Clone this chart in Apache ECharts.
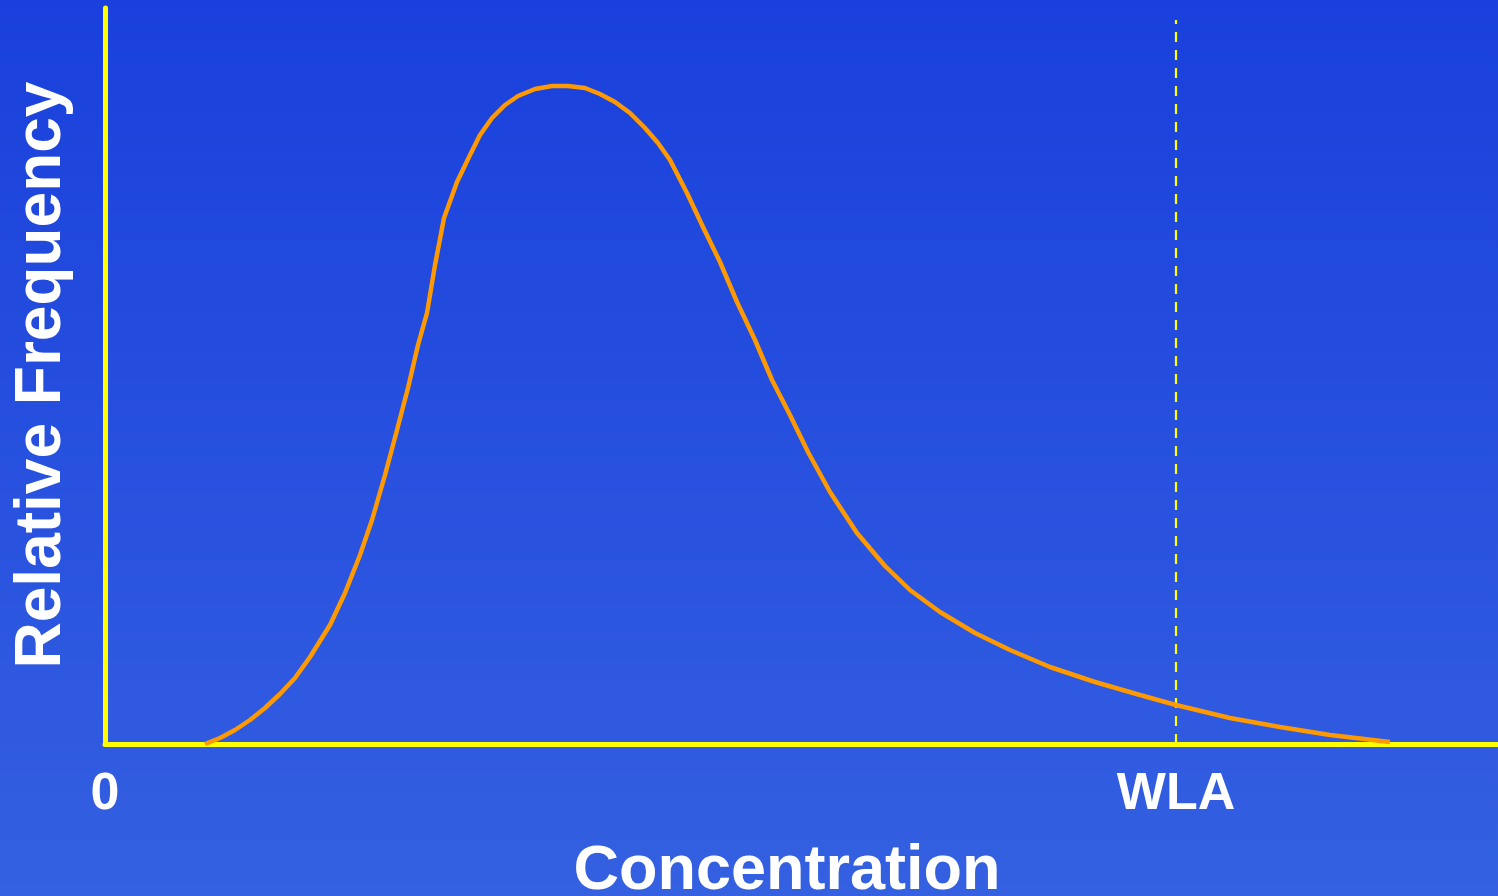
<!DOCTYPE html>
<html>
<head>
<meta charset="utf-8">
<script src="https://cdn.jsdelivr.net/npm/echarts@6/dist/echarts.min.js"></script>
<style>
html,body{margin:0;padding:0;width:100%;height:100%;overflow:hidden;}
#chart{width:1498px;height:896px;}
</style>
</head>
<body>
<div id="chart"></div>
<script>
// Distribution curve: [concentration, relative frequency]
const curveX = [10.0,11.5,13.0,14.5,16.0,17.5,19.0,20.5,22.5,24.0,25.5,26.7,28.0,29.2,30.3,31.3,32.2,33.0,33.9,35.2,36.5,37.5,38.7,40.0,41.3,43.0,44.7,46.3,48.0,49.5,51.0,52.5,54.0,55.3,56.5,58.2,59.8,61.5,63.2,65.0,66.7,68.5,70.3,72.5,75.2,78.0,80.5,83.5,87.0,90.5,94.5,99.0,103.5,107.1,112.5,117.5,122.5,128.5];
const curveY = [0,0.6,1.4,2.4,3.6,5.0,6.6,8.7,11.9,15.1,18.9,22.4,26.9,31.4,35.6,39.9,43.1,47.9,52.6,56.2,58.9,60.9,62.6,63.9,64.8,65.5,65.8,65.8,65.6,65.0,64.2,63.1,61.6,60.1,58.4,55.1,51.7,48.2,44.2,40.4,36.4,32.9,29.2,25.2,21.1,17.8,15.4,13.2,11.1,9.4,7.7,6.2,4.9,3.9,2.6,1.7,0.9,0.2];
const wlaValue = 107.1;
const wlaTop = 72.4;
const tickValues = [0, wlaValue];
const tickLabels = ['0', 'WLA'];
const xTitle = 'Concentration';
const yTitle = 'Relative Frequency';

const chart = echarts.init(document.getElementById('chart'));
const curve = curveX.map((x, i) => [x, curveY[i]]);

chart.setOption({
  backgroundColor: new echarts.graphic.LinearGradient(0, 0, 0, 1, [
    {offset: 0, color: '#1940dc'},
    {offset: 1, color: '#3460e1'}
  ]),
  animation: false,
  grid: {left: 105, right: 0, top: 8, bottom: 152, containLabel: false},
  xAxis: {
    type: 'value', min: 0, max: 139.3, interval: wlaValue,
    axisLine: {show: true, onZero: false, lineStyle: {color: '#ffff00', width: 5}},
    axisTick: {show: false},
    splitLine: {show: false},
    axisLabel: {
      showMaxLabel: false,
      margin: 25,
      color: '#ffffff', fontFamily: 'Liberation Sans, Arial, sans-serif',
      fontWeight: 'bold', fontSize: 52,
      formatter: v => {
        const i = tickValues.findIndex(t => Math.abs(t - v) < 1e-6);
        return i >= 0 ? tickLabels[i] : '';
      }
    }
  },
  yAxis: {
    type: 'value', min: 0, max: 73.6,
    axisLine: {show: true, lineStyle: {color: '#ffff00', width: 5, cap: 'round'}},
    axisTick: {show: false},
    splitLine: {show: false},
    axisLabel: {show: false}
  },
  series: [
    {
      type: 'line', data: curve, showSymbol: false, smooth: false,
      lineStyle: {color: '#ff9900', width: 4.5}, z: 3
    },
    {
      type: 'line', data: [[wlaValue, 0], [wlaValue, wlaTop]], showSymbol: false,
      lineStyle: {color: '#ffff00', width: 2.2, type: [10, 8]}, z: 2
    }
  ],
  graphic: [
    {
      type: 'text', x: 787, y: 872, style: {
        text: xTitle, x: 0, y: 0, align: 'center', verticalAlign: 'middle',
        fill: '#ffffff', font: 'bold 63px "Liberation Sans", Arial, sans-serif'
      }
    },
    {
      type: 'text', x: 42, y: 375, rotation: Math.PI / 2, style: {
        text: yTitle, x: 0, y: 0, align: 'center', verticalAlign: 'middle',
        fill: '#ffffff', font: 'bold 64px "Liberation Sans", Arial, sans-serif'
      }
    }
  ]
});
</script>
</body>
</html>
